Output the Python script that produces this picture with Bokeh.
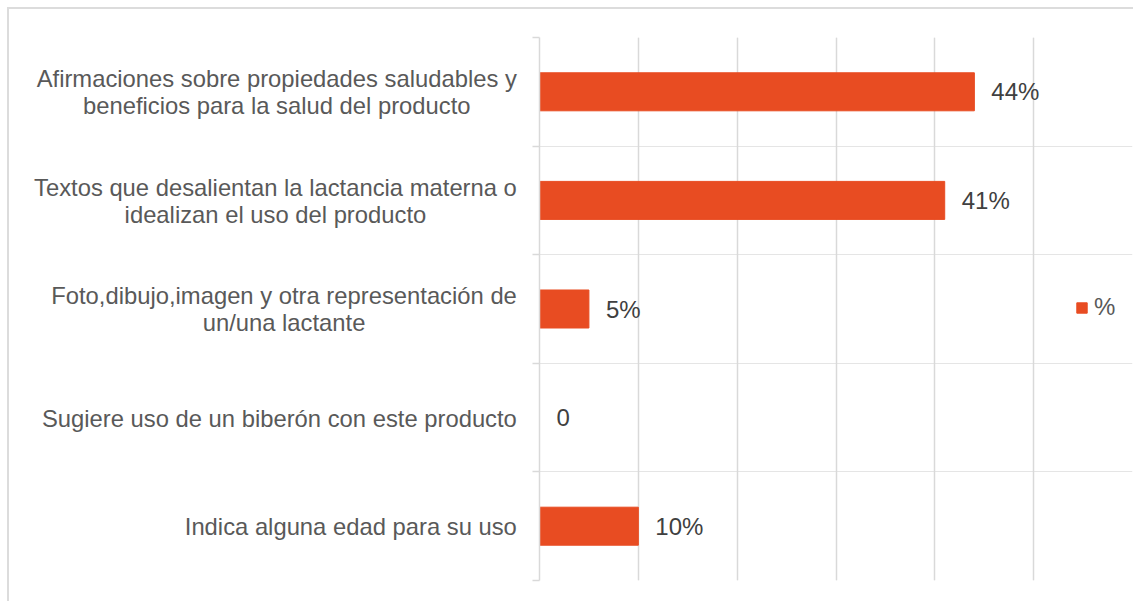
from bokeh.plotting import figure
from bokeh.models import (Range1d, LinearAxis, FixedTicker, Grid, Legend, LegendItem,
                          ColumnDataSource, Div, CustomLabelingPolicy)
from bokeh.layouts import row
from bokeh.core.properties import value
from bokeh.embed import file_html
from bokeh.resources import INLINE

categories = [
    "Afirmaciones sobre propiedades saludables y\nbeneficios para la salud del producto",
    "Textos que desalientan la lactancia materna o\nidealizan el uso del producto",
    "Foto,dibujo,imagen y otra representación de\nun/una lactante",
    "Sugiere uso de un biberón con este producto",
    "Indica alguna edad para su uso",
]
values = [44, 41, 5, 0, 10]
labels = ["44%", "41%", "5%", "0", "10%"]
series_name = "%"

BAR = "#E84C22"
GRID = "#D9D9D9"
TXT = "#595959"
FONT = "Liberation Sans"
FS = "24px"

n = len(categories)
ypos = [n - i - 0.5 for i in range(n)]

TOP, BOTTOM = 28, 21
frame_h = 543
H = TOP + frame_h + BOTTOM

# category labels (centered multi-line blocks, right-aligned next to the axis)
blocks = "".join(
    f'<div style="height:{frame_h / n}px;display:flex;align-items:center;justify-content:flex-end;'
    f'padding-right:11px;box-sizing:border-box">'
    f'<div style="text-align:center;white-space:nowrap;position:relative;left:25px;font-size:23.8px">'
    f'{c.replace(chr(10), "<br>")}</div></div>'
    for c in categories)
div = Div(text=f'<div style="padding-top:{TOP + 1}px;font-family:\'{FONT}\';font-size:{FS};'
               f'color:{TXT};line-height:27px">{blocks}</div>',
          width=519, height=H, styles={"margin": "0", "padding": "0"})

p = figure(width=605, height=H, y_range=Range1d(0, n),
           x_range=Range1d(0, 60), x_axis_location=None, y_axis_location=None,
           output_backend="svg", toolbar_location=None,
           min_border_left=10, min_border_right=1, min_border_top=TOP, min_border_bottom=BOTTOM)
p.outline_line_color = None

tick_axis = LinearAxis(ticker=FixedTicker(ticks=list(range(n + 1))),
                       major_tick_in=0, major_tick_out=7, minor_tick_line_color=None,
                       major_label_text_font_size="1px", major_label_standoff=0,
                       major_label_policy=CustomLabelingPolicy(
                           code="for (const i of indices) { indices.unset(i) }\nreturn indices"),
                       axis_line_color=GRID, major_tick_line_color=GRID, axis_line_width=1.5,
                       major_tick_line_width=1.5)
p.add_layout(tick_axis, "left")

p.add_layout(Grid(dimension=0, ticker=FixedTicker(ticks=[10, 20, 30, 40, 50]),
                  grid_line_color=GRID, grid_line_width=1.5))

src = ColumnDataSource(dict(y=ypos, v=values, lab=labels))
r = p.hbar(y="y", right="v", left=0, height=0.35, source=src, fill_color=BAR, line_color=BAR)
p.text(x="v", y="y", text="lab", source=src, x_offset=17, text_baseline="middle",
       text_font=value(FONT), text_font_size=FS, text_color="#404040")

legend = Legend(items=[LegendItem(label=series_name, renderers=[r])], location=(536, 259),
                border_line_color=None, glyph_width=13, glyph_height=13, label_standoff=6,
                label_text_font=FONT, label_text_font_size=FS, label_text_color=TXT,
                padding=0, margin=0, background_fill_alpha=0)
p.add_layout(legend, "center")

layout = row(div, p, spacing=0)
layout.styles = {"border-left": "2px solid #DCDCDC", "border-top": "2px solid #DCDCDC",
                 "margin": "7px 0 0 7px"}

open("out.html", "w").write(file_html(layout, INLINE))
